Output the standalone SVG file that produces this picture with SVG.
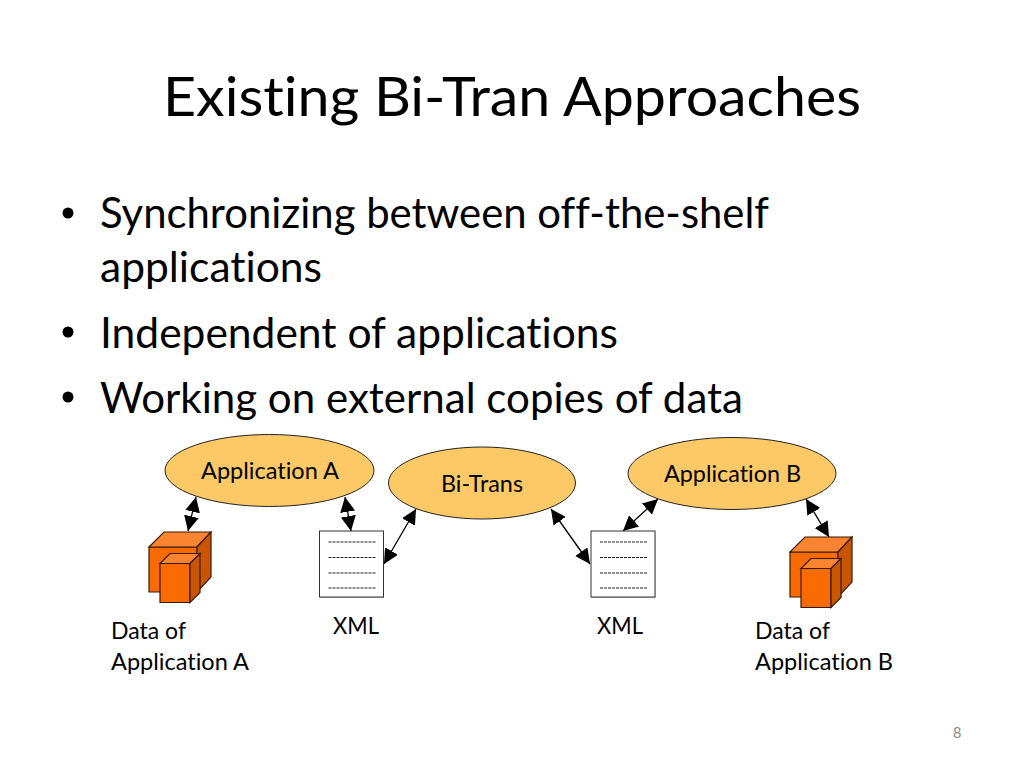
<svg xmlns="http://www.w3.org/2000/svg" width="1024" height="768" viewBox="0 0 1024 768">
<defs>
<marker id="arr" viewBox="0 0 10 10" refX="10" refY="5" markerWidth="15" markerHeight="15" markerUnits="userSpaceOnUse" orient="auto-start-reverse"><path d="M0 0L10 5L0 10Z" fill="#000"/></marker>
<g id="cube"><path class="f" d="M0 15H48V60H0Z"/><path class="t" d="M0 15L15 0H62L48 15Z"/><path class="s" d="M48 15L62 0V45L48 60Z"/><path class="f" d="M11 31.500H41V70.500H11Z"/><path class="t" d="M11 31.500L21 21.500H51L41 31.500Z"/><path class="s" d="M41 31.500L51 21.500V60.500L41 70.500Z"/></g>
<g id="doc"><rect x="0.500" y="1" width="64" height="66" fill="#bbb"/><rect x="0" y="0" width="64" height="66" fill="#fff" stroke="#333" stroke-width="1"/><path d="M9 11H56M9 26.500H56M9 42H56M9 57H56" stroke="#222" stroke-width="1" stroke-dasharray="3 1" fill="none"/></g>
</defs>
<style>
text{font-family:Lato,"Open Sans","Liberation Sans",sans-serif;fill:#000;font-variant-ligatures:none}
.title{font-size:55px}.body{font-size:43px}.lab{font-size:23px}
.e{fill:#fcc966;stroke:#222;stroke-width:1}
.f{fill:#f96a00;stroke:#3a1a00;stroke-width:1.200}.t{fill:#fb8430;stroke:#3a1a00;stroke-width:1.200}.s{fill:#c95500;stroke:#3a1a00;stroke-width:1.200}
.c{stroke:#000;stroke-width:1.300;fill:none;marker-start:url(#arr);marker-end:url(#arr)}
</style>
<text class="title" x="163" y="116" textLength="698" lengthAdjust="spacingAndGlyphs">Existing Bi-Tran Approaches</text>
<g id="bullets">
<circle cx="68" cy="213" r="5.500" fill="#000"/>
<circle cx="68" cy="332" r="5.500" fill="#000"/>
<circle cx="68" cy="397" r="5.500" fill="#000"/>
<text class="body" x="100" y="228" textLength="669" lengthAdjust="spacingAndGlyphs">Synchronizing between off-the-shelf</text>
<text class="body" x="100" y="282" textLength="222" lengthAdjust="spacingAndGlyphs">applications</text>
<text class="body" x="100" y="348" textLength="518" lengthAdjust="spacingAndGlyphs">Independent of applications</text>
<text class="body" x="100" y="413" textLength="643" lengthAdjust="spacingAndGlyphs">Working on external copies of data</text>
</g>
<g id="connectors">
<path class="c" d="M196 497L188 531"/>
<path class="c" d="M345 497L351 531"/>
<path class="c" d="M384 564L416 509"/>
<path class="c" d="M551 509L590 564"/>
<path class="c" d="M623 531L658 499"/>
<path class="c" d="M806 499L829 537"/>
</g>
<g id="app-a"><ellipse class="e" cx="269.500" cy="470.500" rx="104.500" ry="36"/><text class="lab" x="201" y="479" textLength="138" lengthAdjust="spacingAndGlyphs">Application A</text></g>
<g id="bi-trans"><ellipse class="e" cx="482" cy="483" rx="93.500" ry="36"/><text class="lab" x="441" y="492" textLength="82" lengthAdjust="spacingAndGlyphs">Bi-Trans</text></g>
<g id="app-b"><ellipse class="e" cx="732" cy="473.500" rx="104" ry="36"/><text class="lab" x="664" y="482" textLength="137" lengthAdjust="spacingAndGlyphs">Application B</text></g>
<g id="data-a"><use href="#cube" x="149" y="532"/></g>
<g id="data-b"><use href="#cube" x="790" y="537"/></g>
<g id="xml-a"><use href="#doc" x="319.500" y="531"/></g>
<g id="xml-b"><use href="#doc" x="591" y="531"/></g>
<text class="lab" x="333" y="634" textLength="46" lengthAdjust="spacingAndGlyphs">XML</text>
<text class="lab" x="597" y="634" textLength="46" lengthAdjust="spacingAndGlyphs">XML</text>
<text class="lab" x="111" y="639" textLength="75" lengthAdjust="spacingAndGlyphs">Data of</text>
<text class="lab" x="111" y="670" textLength="138" lengthAdjust="spacingAndGlyphs">Application A</text>
<text class="lab" x="755" y="639" textLength="75" lengthAdjust="spacingAndGlyphs">Data of</text>
<text class="lab" x="755" y="670" textLength="138" lengthAdjust="spacingAndGlyphs">Application B</text>
<text x="953" y="738" font-size="14.500" style="fill:#8a8a8a">8</text>
</svg>
